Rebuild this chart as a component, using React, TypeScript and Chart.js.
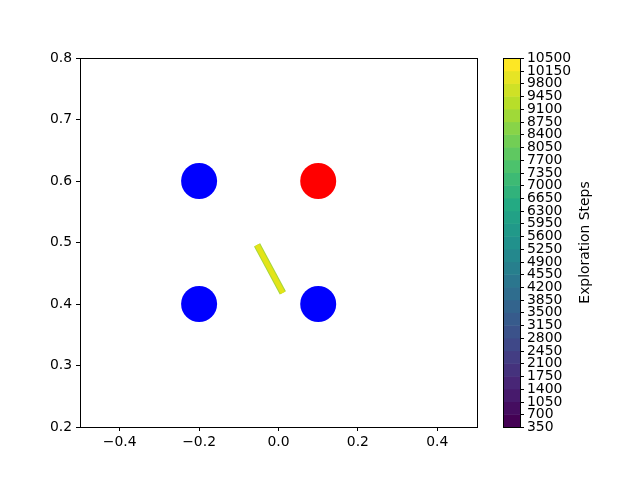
import React, { useEffect, useRef } from 'react';
import { Chart, registerables } from 'chart.js';
Chart.register(...registerables);

const blueX = [-0.2, -0.2, 0.1];
const blueY = [0.6, 0.4, 0.4];
const redX = [0.1];
const redY = [0.6];
const pathX = [-0.054, 0.011];
const pathY = [0.496, 0.418];
const xTicks = [-0.4, -0.2, 0.0, 0.2, 0.4];
const yTicks = [0.2, 0.3, 0.4, 0.5, 0.6, 0.7, 0.8];
const cbarLevels = [350, 700, 1050, 1400, 1750, 2100, 2450, 2800, 3150, 3500, 3850, 4200, 4550, 4900, 5250, 5600, 5950, 6300, 6650, 7000, 7350, 7700, 8050, 8400, 8750, 9100, 9450, 9800, 10150, 10500];
const cbarLabel = 'Exploration Steps';

const viridisStops = ['#440154', '#482475', '#414487', '#355f8d', '#2a788e', '#21918c', '#22a884', '#44bf70', '#7ad151', '#bddf26', '#fde725'];

function hexToRgb(h: string) {
  return [parseInt(h.slice(1, 3), 16), parseInt(h.slice(3, 5), 16), parseInt(h.slice(5, 7), 16)];
}
function viridis(t: number) {
  const p = Math.max(0, Math.min(1, t)) * (viridisStops.length - 1);
  const i = Math.min(Math.floor(p), viridisStops.length - 2);
  const f = p - i;
  const a = hexToRgb(viridisStops[i]);
  const b = hexToRgb(viridisStops[i + 1]);
  const c = a.map((v, k) => Math.round(v + (b[k] - v) * f));
  return `rgb(${c[0]},${c[1]},${c[2]})`;
}

const FONT = 'DejaVu Sans';
const FS = 13.9;
const fmt = (v: number) => v.toFixed(1).replace('-', '\u2212');

export default function App() {
  const ref = useRef<HTMLCanvasElement>(null);
  useEffect(() => {
    const boxPlugin = {
      id: 'boxAndCbar',
      afterDraw(chart: any) {
        const ctx = chart.ctx;
        const a = chart.chartArea;
        ctx.save();
        ctx.strokeStyle = '#000';
        ctx.lineWidth = 1;
        ctx.strokeRect(Math.round(a.left) + 0.5, Math.round(a.top) + 0.5, Math.round(a.right - a.left), Math.round(a.bottom - a.top));
        // colorbar
        const cx0 = 503, cx1 = 520;
        const top = a.top, bot = a.bottom;
        const lo = cbarLevels[0], hi = cbarLevels[cbarLevels.length - 1];
        const yOf = (v: number) => bot - (v - lo) / (hi - lo) * (bot - top);
        const n = cbarLevels.length - 1;
        for (let i = 0; i < n; i++) {
          const y0 = yOf(cbarLevels[i]);
          const y1 = yOf(cbarLevels[i + 1]);
          ctx.fillStyle = viridis(i / (n - 1));
          ctx.fillRect(cx0, y1, cx1 - cx0, y0 - y1 + 0.5);
        }
        ctx.strokeRect(cx0 + 0.5, Math.round(top) + 0.5, cx1 - cx0, Math.round(bot - top));
        ctx.fillStyle = '#000';
        ctx.font = `${FS}px "${FONT}"`;
        ctx.textAlign = 'left';
        ctx.textBaseline = 'middle';
        cbarLevels.forEach((v) => {
          const y = Math.round(yOf(v)) + 0.5;
          ctx.beginPath();
          ctx.moveTo(cx1 + 0.5, y);
          ctx.lineTo(cx1 + 4, y);
          ctx.stroke();
          ctx.fillText(String(v), cx1 + 7, y);
        });
        ctx.save();
        ctx.translate(585, (top + bot) / 2);
        ctx.rotate(-Math.PI / 2);
        ctx.textAlign = 'center';
        ctx.fillText(cbarLabel, 0, 0);
        ctx.restore();
        ctx.restore();
      },
    };
    const pts = (xs: number[], ys: number[]) => xs.map((x, i) => ({ x, y: ys[i] }));
    const chart = new Chart(ref.current!, {
      type: 'scatter',
      data: {
        datasets: [
          { data: pts(blueX, blueY), backgroundColor: '#0000ff', borderWidth: 0, pointRadius: 18, pointHoverRadius: 18, order: 0 },
          { data: pts(redX, redY), backgroundColor: '#ff0000', borderWidth: 0, pointRadius: 18, pointHoverRadius: 18, order: 0 },
          { data: pts(pathX, pathY), showLine: true, borderColor: '#e3e418', borderWidth: 5, borderCapStyle: 'butt', pointRadius: 0, order: 1 },
          { data: pts(pathX, pathY), showLine: true, borderColor: '#a5d63a', borderWidth: 7, borderCapStyle: 'butt', pointRadius: 0, order: 2 },
        ],
      } as any,
      options: {
        animation: false,
        responsive: false,
        events: [],
        layout: { padding: { left: 0, top: 58, right: 163, bottom: 0 } },
        plugins: { legend: { display: false }, tooltip: { enabled: false } },
        scales: {
          x: {
            type: 'linear', min: -0.5, max: 0.5,
            afterBuildTicks: (s: any) => { s.ticks = xTicks.map((v) => ({ value: v })); },
            afterFit: (s: any) => { s.height = 53; },
            grid: { display: true, drawOnChartArea: false, drawTicks: true, tickLength: 4, color: '#000' },
            border: { display: false },
            ticks: { color: '#000', font: { family: FONT, size: FS }, padding: 3, callback: (v: any) => fmt(Number(v)), maxRotation: 0 },
          },
          y: {
            type: 'linear', min: 0.2, max: 0.8,
            afterBuildTicks: (s: any) => { s.ticks = yTicks.map((v) => ({ value: v })); },
            afterFit: (s: any) => { s.width = 80; },
            grid: { display: true, drawOnChartArea: false, drawTicks: true, tickLength: 4, color: '#000' },
            border: { display: false },
            ticks: { color: '#000', font: { family: FONT, size: FS }, padding: 4, callback: (v: any) => fmt(Number(v)) },
          },
        },
      } as any,
      plugins: [boxPlugin],
    });
    return () => chart.destroy();
  }, []);
  return (
    <div style={{ position: 'absolute', left: 0, top: 0, width: 640, height: 480, background: '#fff' }}>
      <canvas ref={ref} width={640} height={480} style={{ width: 640, height: 480 }} />
    </div>
  );
}
